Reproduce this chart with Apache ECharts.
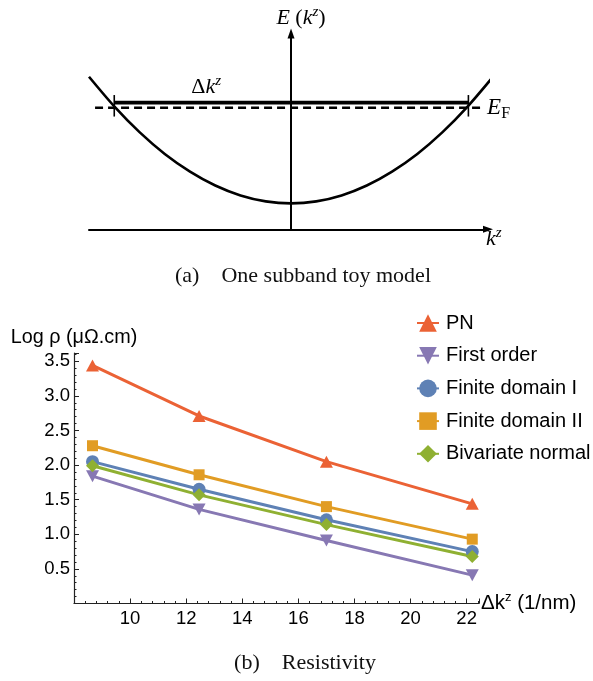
<!DOCTYPE html>
<html>
<head>
<meta charset="utf-8">
<script src="https://cdn.jsdelivr.net/npm/echarts@6/dist/echarts.min.js"></script>
<style>
  html, body { margin: 0; padding: 0; background: #fff; }
  #chart { width: 593px; height: 681px; }
</style>
</head>
<body>
<div id="chart"></div>
<script>
// ---- (a) one-subband toy model ----
// sampled band dispersion E(k^z)
const kz         = [-1, -0.875, -0.75, -0.625, -0.5, -0.375, -0.25, -0.125, 0, 0.125, 0.25, 0.375, 0.5, 0.625, 0.75, 0.875, 1];
const bandEnergy = [1.0, 0.806, 0.637, 0.494, 0.378, 0.287, 0.222, 0.183, 0.17, 0.183, 0.222, 0.287, 0.378, 0.494, 0.637, 0.806, 1.0];
// Fermi level and the span it is drawn over
const fermiEnergy = 0.797;
const fermiSpan   = [-0.97, 0.936];
// Fermi points bracketing Δk^z
const fermiPoints = [-0.875, 0.878];
const deltaKLevel = 0.83;
const deltaKBar   = [0.739, 0.88];

// ---- (b) resistivity vs Δk^z ----
const deltaKz = [8.66, 12.46, 17.0, 22.2];
const seriesNames = ['PN', 'First order', 'Finite domain I', 'Finite domain II', 'Bivariate normal'];
const pn              = [3.44, 2.71, 2.05, 1.44];
const firstOrder      = [1.84, 1.36, 0.91, 0.41];
const finiteDomainI   = [2.05, 1.65, 1.21, 0.75];
const finiteDomainII  = [2.28, 1.86, 1.40, 0.93];
const bivariateNormal = [1.99, 1.57, 1.14, 0.68];
const xTickLabels = [10, 12, 14, 16, 18, 20, 22];
const yTickLabels = ['0.5', '1.0', '1.5', '2.0', '2.5', '3.0', '3.5'];

const SANS = 'Liberation Sans, Arial, sans-serif';
const SERIF = 'Liberation Serif, Times New Roman, serif';

const zip = (xs, ys) => xs.map((x, i) => [x, ys[i]]);

// math-style rich text fragments
const mathRich = (size) => ({
  i: { fontFamily: SERIF, fontStyle: 'italic', fontSize: size, lineHeight: size + 6, color: '#000' },
  r: { fontFamily: SERIF, fontSize: size, lineHeight: size + 6, color: '#000' },
  s: { fontFamily: SERIF, fontStyle: 'italic', fontSize: Math.round(size * 0.68), lineHeight: Math.round(size * 0.68), verticalAlign: 'top', color: '#000' },
  f: { fontFamily: SERIF, fontSize: Math.round(size * 0.7), lineHeight: Math.round(size * 0.7), verticalAlign: 'bottom', color: '#000' }
});

const styles = {
  'PN':               { color: '#EB6235', symbol: 'triangle', size: [13, 12], rotate: 0 },
  'First order':      { color: '#8778B3', symbol: 'triangle', size: [13, 12], rotate: 180 },
  'Finite domain I':  { color: '#5E81B5', symbol: 'circle',   size: 13,       rotate: 0 },
  'Finite domain II': { color: '#E19C24', symbol: 'rect',     size: 11,       rotate: 0 },
  'Bivariate normal': { color: '#8FB032', symbol: 'diamond',  size: [13, 13], rotate: 0 }
};
const values = {
  'PN': pn,
  'First order': firstOrder,
  'Finite domain I': finiteDomainI,
  'Finite domain II': finiteDomainII,
  'Bivariate normal': bivariateNormal
};

const resistivitySeries = seriesNames.map(name => {
  const st = styles[name];
  return {
    name: name,
    type: 'line',
    xAxisIndex: 1,
    yAxisIndex: 1,
    data: zip(deltaKz, values[name]),
    symbol: st.symbol,
    symbolSize: st.size,
    symbolRotate: st.rotate,
    showAllSymbol: true,
    lineStyle: { color: st.color, width: 3 },
    itemStyle: { color: st.color },
    emphasis: { disabled: true },
    animation: false
  };
});

const blackLine = (w) => ({ color: '#000', width: w });

const toySeries = [
  {
    name: 'band',
    type: 'line',
    xAxisIndex: 0, yAxisIndex: 0,
    data: zip(kz, bandEnergy),
    smooth: 0.3,
    symbol: 'none',
    clip: false,
    lineStyle: blackLine(2.6),
    silent: true
  },
  {
    name: 'fermi',
    type: 'line',
    xAxisIndex: 0, yAxisIndex: 0,
    data: fermiSpan.map(k => [k, fermiEnergy]),
    symbol: 'none',
    clip: false,
    lineStyle: { color: '#000', width: 2.5, type: [8, 5] },
    endLabel: {
      show: true,
      distance: 7,
      formatter: '{i|E}{f|F}',
      rich: mathRich(23)
    },
    silent: true
  },
  {
    name: 'deltaK',
    type: 'line',
    xAxisIndex: 0, yAxisIndex: 0,
    data: fermiPoints.map(k => [k, deltaKLevel]),
    symbol: 'none',
    clip: false,
    lineStyle: blackLine(3.6),
    markPoint: {
      symbol: 'circle',
      symbolSize: 0,
      silent: true,
      label: {
        show: true,
        position: 'inside',
        formatter: '{r|Δ}{i|k}{s|z}',
        rich: mathRich(22)
      },
      data: [{ coord: [-0.42, 0.93] }]
    },
    silent: true
  },
  ...fermiPoints.map((k, idx) => ({
    name: 'bar' + idx,
    type: 'line',
    xAxisIndex: 0, yAxisIndex: 0,
    data: deltaKBar.map(e => [k, e]),
    symbol: 'none',
    clip: false,
    lineStyle: blackLine(1.6),
    silent: true
  }))
];

const tickColor = '#222';

const option = {
  animation: false,
  backgroundColor: '#fff',
  grid: [
    { left: 89, right: 105, top: 33.4, bottom: 451.7 },
    { left: 74, right: 114, top: 353, bottom: 77.5 }
  ],
  xAxis: [
    {
      gridIndex: 0, type: 'value', min: -1, max: 0.975,
      axisLine: { show: true, onZero: true, symbol: ['none', 'triangle'], symbolSize: [7, 10], lineStyle: { color: '#000', width: 2 } },
      axisTick: { show: false }, axisLabel: { show: false }, splitLine: { show: false },
      name: '{i|k}{s|z}',
      nameLocation: 'end',
      nameGap: -2,
      nameTextStyle: { verticalAlign: 'middle', padding: [20, 0, 0, 0], rich: mathRich(22) }
    },
    {
      gridIndex: 1, type: 'value', min: 8, max: 22.44, interval: 2,
      axisLine: { onZero: false, lineStyle: { color: tickColor, width: 1.2 } },
      axisTick: { inside: true, length: 5, lineStyle: { color: tickColor, width: 1 } },
      minorTick: { show: true, splitNumber: 5, length: 2.5, lineStyle: { color: tickColor, width: 1 } },
      axisLabel: {
        margin: 6, fontSize: 18.5, fontFamily: SANS, color: '#000',
        formatter: v => { const r = Math.round(v); return (Math.abs(v - r) < 1e-6 && xTickLabels.includes(r)) ? String(r) : ''; }
      },
      splitLine: { show: false },
      name: '{a|Δk}{s|z}{a| (1/nm)}',
      nameLocation: 'end',
      nameGap: 2,
      nameTextStyle: {
        rich: {
          a: { fontFamily: SANS, fontSize: 20.5, lineHeight: 26, color: '#000' },
          s: { fontFamily: SANS, fontSize: 13, lineHeight: 13, verticalAlign: 'top', color: '#000' }
        }
      }
    }
  ],
  yAxis: [
    {
      gridIndex: 0, type: 'value', min: 0, max: 1.284,
      axisLine: { show: true, onZero: true, symbol: ['none', 'triangle'], symbolSize: [7, 10], lineStyle: { color: '#000', width: 2 } },
      axisTick: { show: false }, axisLabel: { show: false }, splitLine: { show: false },
      name: '{i|E}{r| (}{i|k}{s|z}{r|)}',
      nameLocation: 'end',
      nameGap: 1,
      nameTextStyle: { padding: [0, 0, 0, 20], rich: mathRich(22) }
    },
    {
      gridIndex: 1, type: 'value', min: 0, max: 3.62, interval: 0.5,
      axisLine: { onZero: false, lineStyle: { color: tickColor, width: 1.2 } },
      axisTick: { inside: true, length: 5, lineStyle: { color: tickColor, width: 1 } },
      minorTick: { show: true, splitNumber: 5, length: 2.5, lineStyle: { color: tickColor, width: 1 } },
      axisLabel: {
        margin: 4, fontSize: 18.5, fontFamily: SANS, color: '#000',
        formatter: v => { const s = v.toFixed(1); return (Math.abs(v * 2 - Math.round(v * 2)) < 1e-6 && yTickLabels.includes(s)) ? s : ''; }
      },
      splitLine: { show: false },
      name: 'Log ρ (μΩ.cm)',
      nameLocation: 'end',
      nameGap: 5,
      nameTextStyle: { fontFamily: SANS, fontSize: 19.8, color: '#000' }
    }
  ],
  legend: {
    data: seriesNames,
    orient: 'vertical',
    left: 416,
    top: 313,
    padding: 0,
    itemWidth: 22,
    itemHeight: 22,
    itemGap: 12.7,
    selectedMode: false,
    textStyle: { fontFamily: SANS, fontSize: 20, color: '#000', padding: [0, 0, 0, 2] }
  },
  graphic: [
    {
      type: 'text', x: 303, y: 276, silent: true,
      style: { text: '(a)\u2003One subband toy model', font: '22px "Liberation Serif", serif', fill: '#111', align: 'center', verticalAlign: 'middle' }
    },
    {
      type: 'text', x: 305, y: 663, silent: true,
      style: { text: '(b)\u2003Resistivity', font: '22px "Liberation Serif", serif', fill: '#111', align: 'center', verticalAlign: 'middle' }
    }
  ],
  series: [...toySeries, ...resistivitySeries]
};

const chart = echarts.init(document.getElementById('chart'), null, { renderer: 'canvas' });
chart.setOption(option);
</script>
</body>
</html>
